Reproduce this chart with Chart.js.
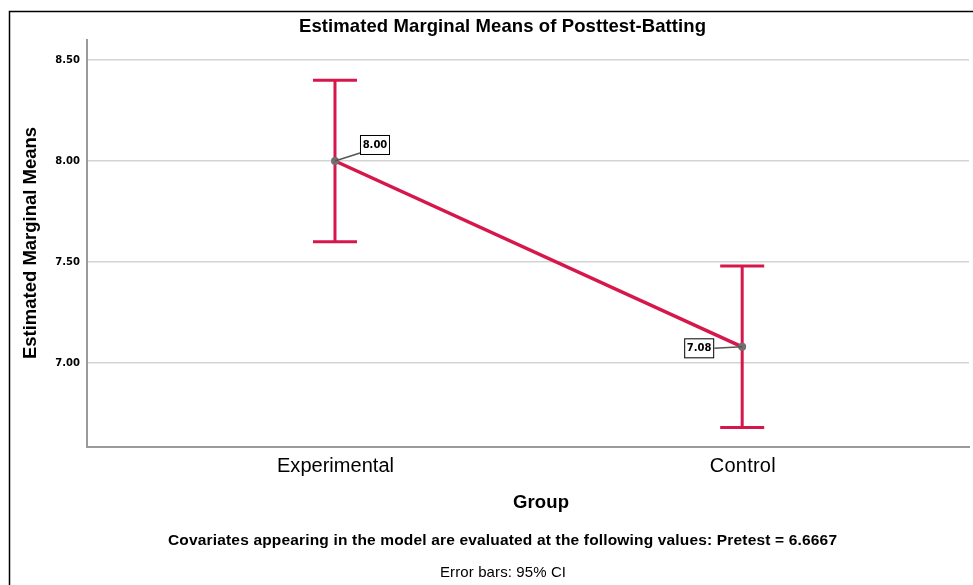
<!DOCTYPE html>
<html lang="en">
<head>
  <meta charset="utf-8">
  <title>Estimated Marginal Means of Posttest-Batting</title>
  <script src="https://cdn.jsdelivr.net/npm/chart.js"></script>
  <style>
    html, body { margin: 0; padding: 0; background: #fff; overflow: hidden; }
    canvas { display: block; }
  </style>
</head>
<body>
  <canvas id="emmChart" width="973" height="585"></canvas>

  <script>
    const groups = ['Experimental', 'Control'];
    const means = [8.00, 7.08];
    const ciLower = [7.60, 6.68];
    const ciUpper = [8.40, 7.48];
    const yTicks = [7.00, 7.50, 8.00, 8.50];

    const RED = '#d6174c';
    const SANS = '"Liberation Sans", Arial, sans-serif';

    // draw text centred on cx, nudged with letter spacing to a given width
    function fitText(ctx, text, cx, cy, width) {
      ctx.letterSpacing = '0px';
      const w = ctx.measureText(text).width;
      const gap = (width - w) / Math.max(text.length - 1, 1);
      ctx.letterSpacing = gap + 'px';
      ctx.textAlign = 'left';
      ctx.fillText(text, cx - width / 2, cy);
      ctx.letterSpacing = '0px';
    }

    // error bars, drawn under the mean line
    const errorBars = {
      id: 'errorBars',
      beforeDatasetsDraw(chart) {
        const { ctx, scales: { x, y } } = chart;
        ctx.save();
        ctx.strokeStyle = RED;
        ctx.lineWidth = 3;
        groups.forEach((g, i) => {
          const px = x.getPixelForValue(i);
          const lo = y.getPixelForValue(ciLower[i]);
          const hi = y.getPixelForValue(ciUpper[i]);
          ctx.beginPath();
          ctx.moveTo(px, lo); ctx.lineTo(px, hi);
          ctx.moveTo(px - 22, lo); ctx.lineTo(px + 22, lo);
          ctx.moveTo(px - 22, hi); ctx.lineTo(px + 22, hi);
          ctx.stroke();
        });
        ctx.restore();
      }
    };

    // boxed value labels with a leader line
    const valueLabels = {
      id: 'valueLabels',
      afterDatasetsDraw(chart) {
        const { ctx, scales: { x, y } } = chart;
        const offsets = [[40, -16], [-43, 1.5]];
        ctx.save();
        ctx.font = 'bold 10px "DejaVu Sans", sans-serif';
        ctx.textAlign = 'center';
        ctx.textBaseline = 'middle';
        means.forEach((m, i) => {
          const px = x.getPixelForValue(i);
          const py = y.getPixelForValue(m);
          const cx = px + offsets[i][0];
          const cy = py + offsets[i][1];
          const w = 30, h = 20;
          ctx.strokeStyle = '#555';
          ctx.lineWidth = 1.5;
          ctx.beginPath();
          ctx.moveTo(px, py);
          if (offsets[i][0] > 0) ctx.lineTo(cx - w / 2, cy + h / 2 - 2);
          else ctx.lineTo(cx + w / 2, cy);
          ctx.stroke();
          ctx.fillStyle = '#fff';
          ctx.fillRect(cx - w / 2, cy - h / 2, w, h);
          ctx.strokeStyle = '#000';
          ctx.lineWidth = 1;
          ctx.strokeRect(cx - w / 2 + 0.5, cy - h / 2 + 0.5, w - 1, h - 1);
          ctx.fillStyle = '#000';
          ctx.fillText(m.toFixed(2), cx, cy + 0.5);
        });
        ctx.restore();
      }
    };

    // titles, group labels, footnotes and the outer frame
    const texts = {
      id: 'texts',
      afterDraw(chart) {
        const { ctx, scales: { x } } = chart;
        ctx.save();
        ctx.strokeStyle = '#000';
        ctx.lineWidth = 1.5;
        ctx.beginPath();
        ctx.moveTo(9.5, 585); ctx.lineTo(9.5, 11.5); ctx.lineTo(973, 11.5);
        ctx.stroke();

        ctx.fillStyle = '#000';
        ctx.textBaseline = 'middle';
        ctx.font = 'bold 18.5px ' + SANS;
        fitText(ctx, 'Estimated Marginal Means of Posttest-Batting', 502.5, 27, 407);
        ctx.font = 'bold 18.5px ' + SANS;
        fitText(ctx, 'Group', 541, 503, 56);
        ctx.font = 'bold 15.5px ' + SANS;
        fitText(ctx, 'Covariates appearing in the model are evaluated at the following values: Pretest = 6.6667', 502.5, 541, 669);
        ctx.font = '15px ' + SANS;
        fitText(ctx, 'Error bars: 95% CI', 503, 573, 126);

        ctx.font = '20px ' + SANS;
        const labelW = [117, 66];
        groups.forEach((g, i) => fitText(ctx, g, x.getPixelForValue(i) + 0.5, 466, labelW[i]));

        ctx.translate(31, 243);
        ctx.rotate(-Math.PI / 2);
        ctx.font = 'bold 18.5px ' + SANS;
        fitText(ctx, 'Estimated Marginal Means', 0, 0, 232);
        ctx.restore();
      }
    };

    new Chart(document.getElementById('emmChart').getContext('2d'), {
      type: 'line',
      data: {
        datasets: [{
          label: 'Posttest-Batting',
          data: means.map((m, i) => ({ x: i, y: m })),
          borderColor: RED,
          borderWidth: 3.5,
          pointRadius: 4,
          pointBackgroundColor: '#707070',
          pointBorderWidth: 0,
          tension: 0
        }]
      },
      options: {
        responsive: false,
        animation: false,
        layout: { padding: { top: 40, left: 0, right: 0, bottom: 0 } },
        plugins: { legend: { display: false }, tooltip: { enabled: false } },
        scales: {
          x: {
            type: 'linear',
            min: -0.609,
            max: 1.557,
            afterBuildTicks: s => { s.ticks = groups.map((g, i) => ({ value: i })); },
            afterFit: s => { s.height = 138; },
            grid: { display: false, drawTicks: false },
            border: { display: true, color: '#9a9a9a', width: 2 },
            ticks: { display: false }
          },
          y: {
            min: 6.584,
            max: 8.599,
            afterBuildTicks: s => { s.ticks = yTicks.map(v => ({ value: v })); },
            afterFit: s => { s.width = 87; },
            grid: { color: '#d4d4d4', lineWidth: 1.5, drawTicks: false },
            border: { color: '#9a9a9a', width: 2 },
            ticks: {
              padding: 7,
              color: '#000',
              font: { family: '"DejaVu Sans", sans-serif', size: 10, weight: 'bold' },
              callback: v => v.toFixed(2)
            }
          }
        }
      },
      plugins: [errorBars, valueLabels, texts]
    });
  </script>
</body>
</html>
